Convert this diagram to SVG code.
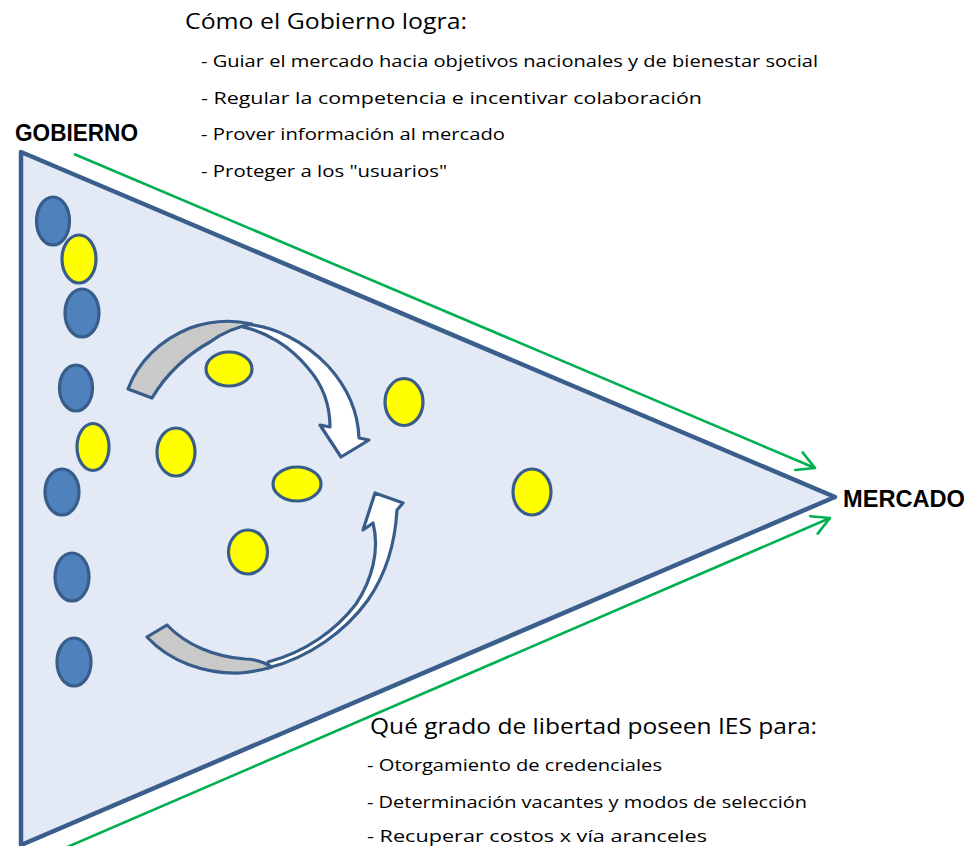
<svg xmlns="http://www.w3.org/2000/svg" width="969" height="846" viewBox="0 0 969 846">
<defs>
<style>
.tri{fill:#E3EAF5;stroke:#3B5F8C;stroke-width:4.5;stroke-linejoin:round}
.blue{fill:#4F81BD;stroke:#385D8A;stroke-width:3.2}
.yel{fill:#FFFF00;stroke:#385D8A;stroke-width:3.2}
.grn{fill:none;stroke:#00B050;stroke-width:2.6}
.arc-g{fill:#C9C9C9;stroke:#385D8A;stroke-width:3.2;stroke-linejoin:round}
.arc-w{fill:#FFFFFF;stroke:#385D8A;stroke-width:3.2;stroke-linejoin:round}
.lbl{font-family:"Liberation Sans",Arial,sans-serif;font-weight:bold;font-size:23px;fill:#000}
.hd{font-family:"Open Sans","Liberation Sans",sans-serif;font-size:21px;fill:#000}
.bl{font-family:"Open Sans","Liberation Sans",sans-serif;font-size:17px;fill:#000}
</style>
<marker id="ah" markerUnits="userSpaceOnUse" markerWidth="24" markerHeight="24" viewBox="-20 -12 24 24" refX="0" refY="0" orient="auto">
<path d="M -17.5 -9.5 L 0 0 L -17.5 9.5" fill="none" stroke="#00B050" stroke-width="2.6" stroke-linecap="round" stroke-linejoin="round"/>
</marker>
</defs>

<g id="triangle">
<polygon class="tri" points="21,152 835,497 21,845"/>
</g>

<g id="connectors">
<line class="grn" x1="74" y1="154" x2="815" y2="468" marker-end="url(#ah)"/>
<line class="grn" x1="58" y1="851" x2="830" y2="518" marker-end="url(#ah)"/>
</g>

<g id="cycle-top">
<path class="arc-w" d="M 243 324 C 275 326 305 342 328 366 C 348 388 358 412 359 438 L 369 440 L 341 457 L 320 425 L 330 427 C 330 405 322 384 308 368 C 290 346 266 332 243 327 Z"/>
<path class="arc-g" d="M 128 389 C 138 362 160 340 190 328 C 212 320 234 320 252 324 C 236 327 222 333 210 342 C 188 354 166 374 152 398 Z"/>
</g>

<g id="cycle-bottom">
<path class="arc-w" d="M 268 668 C 308 658 345 632 368 600 C 386 574 395 545 397 510 L 403 503 L 375 493 L 363 530 L 373 523 C 380 550 372 580 356 604 C 336 630 306 652 268 662 Z"/>
<path class="arc-g" d="M 147 637 C 170 662 205 674 240 673 C 252 672 262 670 272 667 C 262 661 254 659 245 659 C 215 657 186 645 167 625 Z"/>
</g>

<g id="nodes-left">
<ellipse class="blue" cx="53" cy="221" rx="16.5" ry="24"/>
<ellipse class="yel" cx="79" cy="259" rx="17" ry="24"/>
<ellipse class="blue" cx="82" cy="313" rx="17" ry="24"/>
<ellipse class="blue" cx="76" cy="388" rx="16.5" ry="23"/>
<ellipse class="yel" cx="93" cy="447" rx="16" ry="23.5"/>
<ellipse class="blue" cx="62" cy="492" rx="17" ry="23"/>
<ellipse class="blue" cx="72" cy="577" rx="17" ry="24"/>
<ellipse class="blue" cx="74" cy="662" rx="17" ry="24"/>
</g>

<g id="nodes-center">
<ellipse class="yel" cx="229" cy="369" rx="23" ry="17"/>
<ellipse class="yel" cx="176" cy="452" rx="19" ry="24"/>
<ellipse class="yel" cx="404" cy="402" rx="19" ry="23.5"/>
<ellipse class="yel" cx="297" cy="484" rx="24" ry="17"/>
<ellipse class="yel" cx="248" cy="552" rx="19.5" ry="22"/>
<ellipse class="yel" cx="532" cy="492" rx="19" ry="23"/>
</g>

<g id="label-gobierno">
<text class="lbl" x="15" y="141" textLength="123" lengthAdjust="spacingAndGlyphs">GOBIERNO</text>
</g>
<g id="label-mercado">
<text class="lbl" x="843" y="507" textLength="122" lengthAdjust="spacingAndGlyphs">MERCADO</text>
</g>

<g id="text-gobierno">
<text class="hd" x="185" y="29" textLength="282" lengthAdjust="spacingAndGlyphs">Cómo el Gobierno logra:</text>
<text class="bl" x="201" y="67" textLength="617" lengthAdjust="spacingAndGlyphs">- Guiar el mercado hacia objetivos nacionales y de bienestar social</text>
<text class="bl" x="201" y="104" textLength="501" lengthAdjust="spacingAndGlyphs">- Regular la competencia e incentivar colaboración</text>
<text class="bl" x="201" y="140" textLength="304" lengthAdjust="spacingAndGlyphs">- Prover información al mercado</text>
<text class="bl" x="201" y="177" textLength="246" lengthAdjust="spacingAndGlyphs">- Proteger a los "usuarios"</text>
</g>

<g id="text-ies">
<text class="hd" x="370" y="734" textLength="447" lengthAdjust="spacingAndGlyphs">Qué grado de libertad poseen IES para:</text>
<text class="bl" x="367" y="771" textLength="295" lengthAdjust="spacingAndGlyphs">- Otorgamiento de credenciales</text>
<text class="bl" x="367" y="808" textLength="440" lengthAdjust="spacingAndGlyphs">- Determinación vacantes y modos de selección</text>
<text class="bl" x="367" y="842" textLength="340" lengthAdjust="spacingAndGlyphs">- Recuperar costos x vía aranceles</text>
</g>
</svg>
